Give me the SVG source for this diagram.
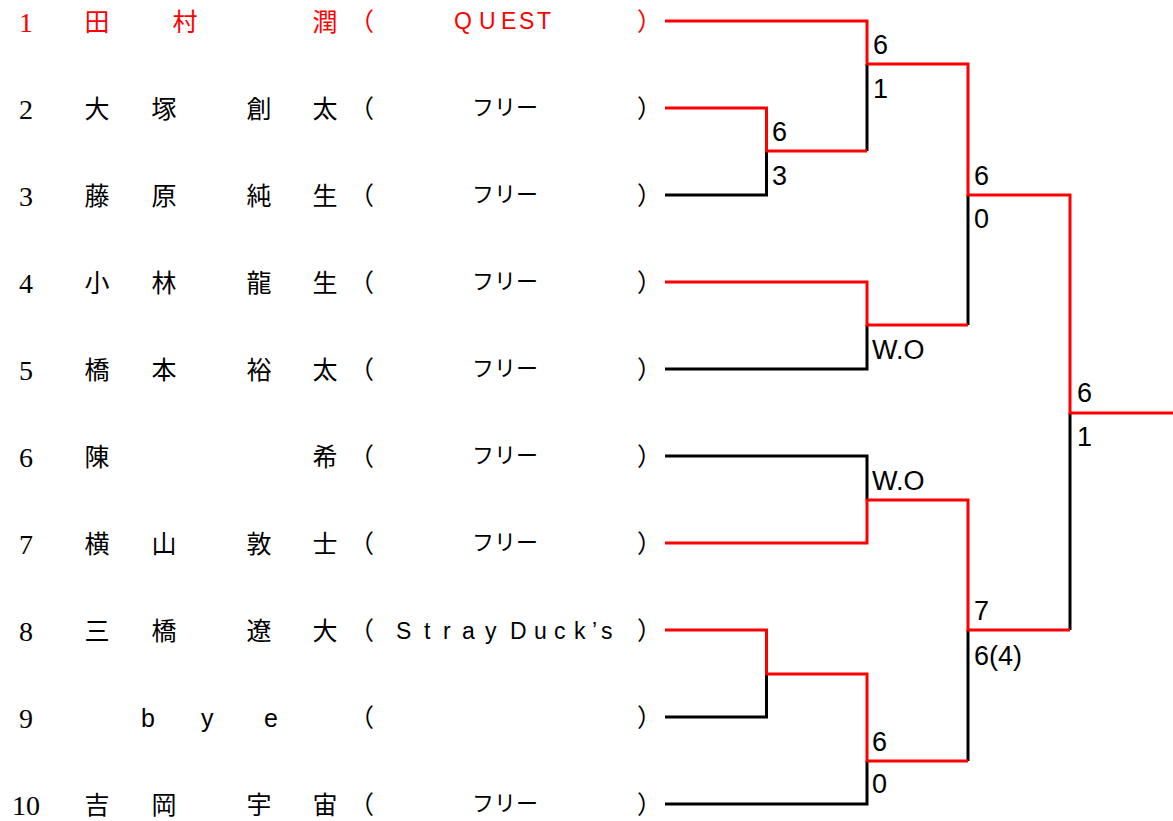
<svg xmlns="http://www.w3.org/2000/svg" width="1173" height="821" viewBox="0 0 1173 821">
<style>
.num{font-family:"Liberation Serif",serif;font-size:28px;text-anchor:middle;fill:#000}
.nm{font-family:"Noto Sans CJK JP",sans-serif;font-size:25px;text-anchor:middle;fill:#000}
.par{font-family:"Noto Sans CJK JP",sans-serif;font-size:25px;fill:#000}
.team{font-family:"Noto Sans CJK JP",sans-serif;font-size:22px;text-anchor:middle;fill:#000}
.lat{font-family:"Liberation Sans",sans-serif;font-size:23px;fill:#000}
.red{fill:#ff0000}
.sc{font-family:"Liberation Sans",sans-serif;font-size:27px;fill:#000}
.lb{fill:none;stroke:#000;stroke-width:3}
.lr{fill:none;stroke:#ff0000;stroke-width:3}
</style>
<rect width="1173" height="821" fill="#fff"/>
<g id="p1">
<text class="num red" x="26" y="32">1</text>
<text class="nm red" x="97 185 325" y="31">田村潤</text>
<text class="par red" x="349" y="31">（</text>
<text class="lat red" x="454 479 501 519 537" y="29">QUEST</text>
<text class="par red" x="637" y="31">）</text>
</g>
<g id="p2">
<text class="num" x="26" y="119">2</text>
<text class="nm" x="97 164 259 325" y="118">大塚創太</text>
<text class="par" x="349" y="118">（</text>
<text class="team" x="505" y="115">フリー</text>
<text class="par" x="637" y="118">）</text>
</g>
<g id="p3">
<text class="num" x="26" y="206">3</text>
<text class="nm" x="97 164 259 325" y="205">藤原純生</text>
<text class="par" x="349" y="205">（</text>
<text class="team" x="505" y="202">フリー</text>
<text class="par" x="637" y="205">）</text>
</g>
<g id="p4">
<text class="num" x="26" y="293">4</text>
<text class="nm" x="97 164 259 325" y="292">小林龍生</text>
<text class="par" x="349" y="292">（</text>
<text class="team" x="505" y="289">フリー</text>
<text class="par" x="637" y="292">）</text>
</g>
<g id="p5">
<text class="num" x="26" y="380">5</text>
<text class="nm" x="97 164 259 325" y="379">橋本裕太</text>
<text class="par" x="349" y="379">（</text>
<text class="team" x="505" y="376">フリー</text>
<text class="par" x="637" y="379">）</text>
</g>
<g id="p6">
<text class="num" x="26" y="467">6</text>
<text class="nm" x="97 325" y="466">陳希</text>
<text class="par" x="349" y="466">（</text>
<text class="team" x="505" y="463">フリー</text>
<text class="par" x="637" y="466">）</text>
</g>
<g id="p7">
<text class="num" x="26" y="554">7</text>
<text class="nm" x="97 164 259 325" y="553">横山敦士</text>
<text class="par" x="349" y="553">（</text>
<text class="team" x="505" y="550">フリー</text>
<text class="par" x="637" y="553">）</text>
</g>
<g id="p8">
<text class="num" x="26" y="641">8</text>
<text class="nm" x="97 164 259 325" y="640">三橋遼大</text>
<text class="par" x="349" y="640">（</text>
<text class="lat" x="396 424 443 462 485 500 510 534 554 574 592 601" y="639">Stray Duck’s</text>
<text class="par" x="637" y="640">）</text>
</g>
<g id="p9">
<text class="num" x="26" y="728">9</text>
<text class="lat" style="font-size:25px" x="141 201 264" y="727">bye</text>
<text class="par" x="349" y="727">（</text>
<text class="par" x="637" y="727">）</text>
</g>
<g id="p10">
<text class="num" x="26" y="815">10</text>
<text class="nm" x="97 164 259 325" y="814">吉岡宇宙</text>
<text class="par" x="349" y="814">（</text>
<text class="team" x="505" y="811">フリー</text>
<text class="par" x="637" y="814">）</text>
</g>
<g id="connectors">
<path class="lb" d="M665,195 H766.5 V151"/>
<path class="lb" d="M867,64 V151"/>
<path class="lb" d="M968,195 V325"/>
<path class="lb" d="M665,369 H867 V325"/>
<path class="lb" d="M1070,413 V630"/>
<path class="lb" d="M665,456 H867 V500"/>
<path class="lb" d="M968,630 V761"/>
<path class="lb" d="M665,717 H766.5 V674"/>
<path class="lb" d="M665,804 H867 V761"/>
<path class="lr" d="M665,21 H867 V64 H968 V195 H1070 V413 H1173"/>
<path class="lr" d="M665,108 H766.5 V151 H867"/>
<path class="lr" d="M665,282 H867 V325 H968"/>
<path class="lr" d="M665,543 H867 V500 H968 V630 H1070"/>
<path class="lr" d="M665,630 H766.5 V674 H867 V761 H968"/>
</g>
<g id="scores">
<text class="sc" x="873" y="54">6</text>
<text class="sc" x="873" y="98">1</text>
<text class="sc" x="772" y="141">6</text>
<text class="sc" x="772" y="185">3</text>
<text class="sc" x="974" y="185">6</text>
<text class="sc" x="974" y="228">0</text>
<text class="sc" x="872" y="359">W.O</text>
<text class="sc" x="1077" y="402">6</text>
<text class="sc" x="1077" y="446">1</text>
<text class="sc" x="872" y="490">W.O</text>
<text class="sc" x="974" y="620">7</text>
<text class="sc" x="974" y="665">6(4)</text>
<text class="sc" x="872" y="751">6</text>
<text class="sc" x="872" y="793">0</text>
</g>
</svg>
